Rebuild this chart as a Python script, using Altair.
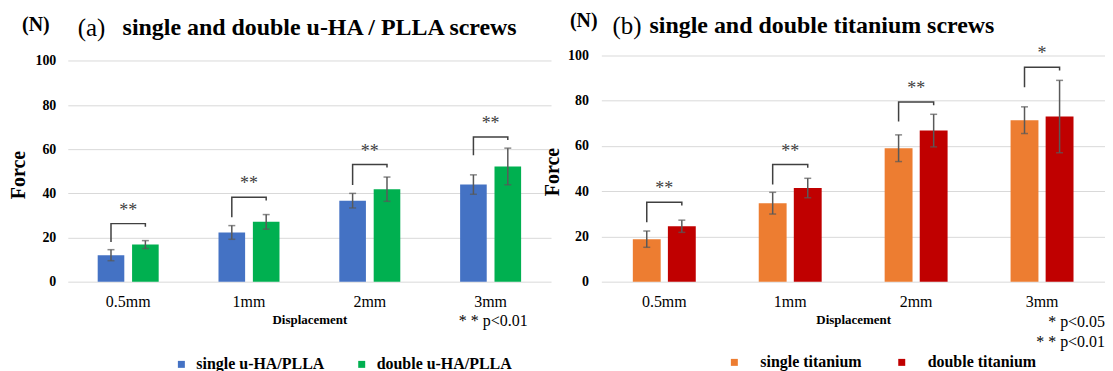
import altair as alt
import pandas as pd

FONT = "Liberation Serif"

categories = ["0.5mm", "1mm", "2mm", "3mm"]
y_ticks = [0, 20, 40, 60, 80, 100]

# panel (a)
a_series = ["single u-HA/PLLA", "double u-HA/PLLA"]
a_colors = ["#4472C4", "#00B050"]
a_single = [12.0, 22.3, 36.7, 44.0]
a_single_err = [2.5, 3.1, 3.3, 4.4]
a_double = [16.8, 27.1, 41.9, 52.2]
a_double_err = [1.8, 3.3, 5.5, 8.3]
a_bracket_top = [26.3, 38.2, 53.1, 65.6]
a_bracket_leg = [18.0, 29.2, 43.8, 57.3]
a_stars = ["**", "**", "**", "**"]

# panel (b)
b_series = ["single titanium", "double titanium"]
b_colors = ["#ED7D31", "#C00000"]
b_single = [18.8, 34.7, 59.0, 71.4]
b_single_err = [3.6, 4.8, 5.9, 5.9]
b_double = [24.5, 41.4, 66.8, 73.0]
b_double_err = [2.7, 4.3, 7.2, 16.0]
b_bracket_top = [35.1, 51.8, 79.4, 94.8]
b_bracket_leg = [26.3, 43.0, 70.8, 86.0]
b_stars = ["**", "**", "**", "*"]


def bars_df(series, single, single_err, double, double_err):
    rows = []
    for i, c in enumerate(categories):
        rows.append(dict(cat=c, series=series[0], value=single[i], err=single_err[i]))
        rows.append(dict(cat=c, series=series[1], value=double[i], err=double_err[i]))
    return pd.DataFrame(rows)


def bracket_df(series, top, leg, drop=1.4):
    rows = []
    for i, c in enumerate(categories):
        rows += [
            dict(cat=c, series=series[0], y=leg[i], o=0),
            dict(cat=c, series=series[0], y=top[i], o=1),
            dict(cat=c, series=series[1], y=top[i], o=2),
            dict(cat=c, series=series[1], y=top[i] - drop, o=3),
        ]
    return pd.DataFrame(rows)


def txt(s, x, y, size, weight="normal", align="left", angle=0, baseline="middle"):
    return alt.Chart(pd.DataFrame({"t": [s]})).mark_text(
        font=FONT, fontSize=size, fontWeight=weight, align=align,
        baseline=baseline, angle=angle, color="#000000"
    ).encode(text="t:N", x=alt.value(x), y=alt.value(y))


def panel(series, colors, single, single_err, double, double_err, btop, bleg, stars,
          width, height, ymax, xo_pi, xo_po, leg_x, leg_y, label_offset, col_pad,
          ylabel_pad, texts):
    df = bars_df(series, single, single_err, double, double_err)
    bdf = bracket_df(series, btop, bleg)
    sdf = pd.DataFrame({"cat": categories, "top": btop, "star": stars})

    xscale = alt.Scale(domain=categories, paddingInner=0, paddingOuter=0)
    xoscale = alt.Scale(domain=series, paddingInner=xo_pi, paddingOuter=xo_po)
    yscale = alt.Scale(domain=[0, ymax], nice=False, zero=True)

    xaxis = alt.Axis(
        title="Displacement", titleFont=FONT, titleFontWeight="bold", titleFontSize=13,
        titleColor="#000000", titlePadding=4, labelFont=FONT, labelFontSize=16,
        labelColor="#000000", labelPadding=12, labelAngle=0, ticks=False, tickSize=0,
        domain=False, grid=False,
    )
    yaxis = alt.Axis(
        title=None, values=y_ticks, labelFont=FONT, labelFontWeight="bold",
        labelFontSize=14, labelColor="#000000", labelPadding=ylabel_pad, ticks=False,
        tickSize=0, domain=False, grid=True, gridColor="#D9D9D9", gridWidth=1,
    )

    def X():
        return alt.X("cat:N", scale=xscale, axis=xaxis)

    def XO():
        return alt.XOffset("series:N", scale=xoscale)

    def Y(field):
        return alt.Y(field, scale=yscale, axis=yaxis)

    bars = alt.Chart(df).mark_bar().encode(
        x=X(), xOffset=XO(), y=Y("value:Q"),
        color=alt.Color(
            "series:N", scale=alt.Scale(domain=series, range=colors),
            legend=alt.Legend(
                title=None, orient="none", legendX=leg_x, legendY=leg_y,
                direction="horizontal", symbolType="square", symbolSize=49,
                symbolStrokeWidth=0, symbolOpacity=1, labelFont=FONT,
                labelFontWeight="bold", labelFontSize=16, labelColor="#000000",
                labelOffset=label_offset, columnPadding=col_pad, padding=0,
                labelLimit=300,
            ),
        ),
    )

    ebase = alt.Chart(df).transform_calculate(
        lo="datum.value - datum.err", hi="datum.value + datum.err"
    )
    err = ebase.mark_rule(color="#595959", strokeWidth=1.5).encode(
        x=X(), xOffset=XO(), y=Y("lo:Q"), y2="hi:Q"
    )
    cap_lo = ebase.mark_tick(color="#595959", size=7, thickness=1.5).encode(
        x=X(), xOffset=XO(), y=Y("lo:Q")
    )
    cap_hi = ebase.mark_tick(color="#595959", size=7, thickness=1.5).encode(
        x=X(), xOffset=XO(), y=Y("hi:Q")
    )
    bracket = alt.Chart(bdf).mark_line(color="#404040", strokeWidth=1.5).encode(
        x=X(), xOffset=XO(), y=Y("y:Q"), order="o:Q", detail="cat:N"
    )
    star = alt.Chart(sdf).mark_text(
        font=FONT, fontSize=18, baseline="alphabetic", dy=-8, color="#404040"
    ).encode(x=X(), y=Y("top:Q"), text="star:N")

    return alt.layer(bars, err, cap_lo, cap_hi, bracket, star, *texts).properties(
        width=width, height=height
    )


left = panel(
    a_series, a_colors, a_single, a_single_err, a_double, a_double_err,
    a_bracket_top, a_bracket_leg, a_stars,
    width=485, height=227, ymax=102.48, xo_pi=0.226, xo_po=0.87,
    leg_x=106, leg_y=302, label_offset=7, col_pad=29, ylabel_pad=12,
    texts=[
        txt("(N)", -45.9, -31, 20, "bold"),
        txt("(a)", 10, -28, 25),
        txt("single and double u-HA / PLLA screws", 55, -28, 24, "bold"),
        txt("Force", -49, 120, 20, "bold", align="center", angle=270),
        txt("* * p<0.01", 427, 266.7, 16, align="center"),
    ],
)

right = panel(
    b_series, b_colors, b_single, b_single_err, b_double, b_double_err,
    b_bracket_top, b_bracket_leg, b_stars,
    width=505.5, height=227, ymax=100, xo_pi=0.205, xo_po=0.898,
    leg_x=125.5, leg_y=300, label_offset=18, col_pad=32, ylabel_pad=13,
    texts=[
        txt("(N)", -31.5, -35, 20, "bold"),
        txt("(b)", 11.2, -30, 25),
        txt("single and double titanium screws", 48.3, -30, 24, "bold"),
        txt("Force", -48.5, 117, 20, "bold", align="center", angle=270),
        txt("* p<0.05", 505.5, 267, 16, align="right"),
        txt("* * p<0.01", 505.5, 288, 16, align="right"),
    ],
)

chart = alt.hconcat(left, right, spacing=50.5, bounds="flush").resolve_scale(
    color="independent", x="independent", y="independent", xOffset="independent"
).properties(
    padding={"left": 1, "top": 2, "right": 0, "bottom": 0}, background="white"
).configure_view(stroke=None)

chart.save("out.html", embed_options={"renderer": "svg", "actions": False})
